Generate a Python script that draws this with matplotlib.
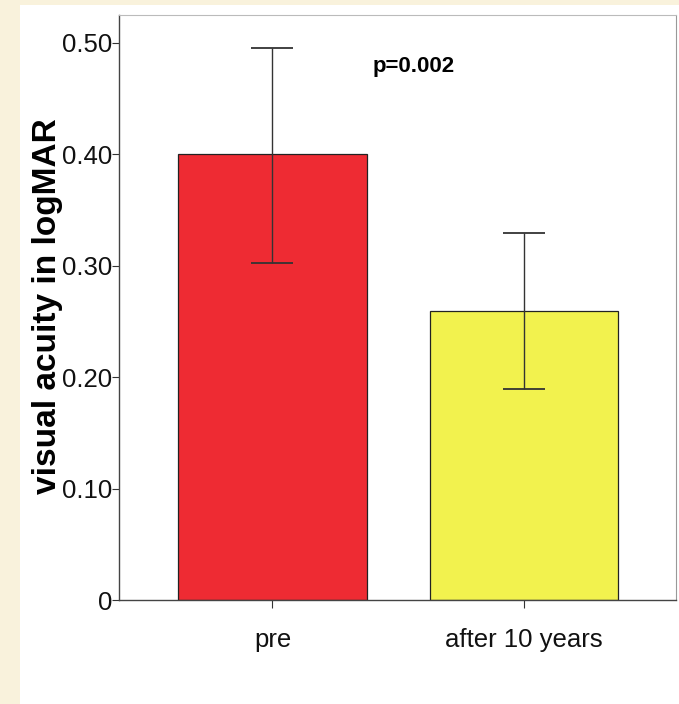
import matplotlib
matplotlib.use("Agg")
import matplotlib.pyplot as plt
from matplotlib.patches import Rectangle

categories = ["pre", "after 10 years"]
means = [0.40, 0.259]
err_low = [0.3025, 0.189]
err_high = [0.495, 0.329]
colors = ["#EE2B33", "#F2F24E"]
yticks = [0, 0.10, 0.20, 0.30, 0.40, 0.50]
ytick_labels = ["0", "0.10", "0.20", "0.30", "0.40", "0.50"]
p_text = "p=0.002"

plt.rcParams['font.family'] = ['Liberation Sans', 'DejaVu Sans']

fig = plt.figure(figsize=(6.79, 7.04), dpi=100)
fig.patch.set_facecolor("#F9F2DC")
fig.add_artist(Rectangle((20/679, 0), 1 - 20/679, 1 - 5/704,
                         transform=fig.transFigure, facecolor="white",
                         edgecolor="none", zorder=0))

ax = fig.add_axes([119/679, 1 - 600/704, (676 - 119)/679, (600 - 15)/704])
ax.set_facecolor("white")
x = list(range(len(categories)))
ax.bar(x, means, width=0.75, color=colors, edgecolor="#222222", linewidth=0.9, zorder=2)
lower = [m - l for m, l in zip(means, err_low)]
upper = [h - m for m, h in zip(means, err_high)]
ax.errorbar(x, means, yerr=[lower, upper], fmt="none", ecolor="#333333",
            elinewidth=1.0, capsize=15, capthick=1.3, zorder=3)

ax.set_xlim(-0.61, 1.604)
ax.set_ylim(0, 0.525)
ax.set_xticks(x)
ax.set_xticklabels(categories, fontsize=18.5)
ax.set_yticks(yticks)
ax.set_yticklabels(ytick_labels, fontsize=18.5)
ax.tick_params(axis="y", direction="out", length=5, width=0.8, pad=0, colors="#333333", labelcolor="#111111")
ax.tick_params(axis="x", direction="out", length=6, width=0.8, pad=14, colors="#333333", labelcolor="#111111")

for s in ["left", "bottom"]:
    ax.spines[s].set_color("#444444")
    ax.spines[s].set_linewidth(1.0)
ax.spines["top"].set_color("#BBBBBB")
ax.spines["right"].set_color("#999999")

ax.set_ylabel("visual acuity in logMAR", fontsize=24, fontweight="bold")
ax.yaxis.set_label_coords(-56/557, (600 - 306)/585)

ax.text(0.396, 0.479, p_text, fontsize=16, fontweight="bold", ha="left", va="center", zorder=4)

fig.savefig("out.png", dpi=100, facecolor=fig.get_facecolor())
